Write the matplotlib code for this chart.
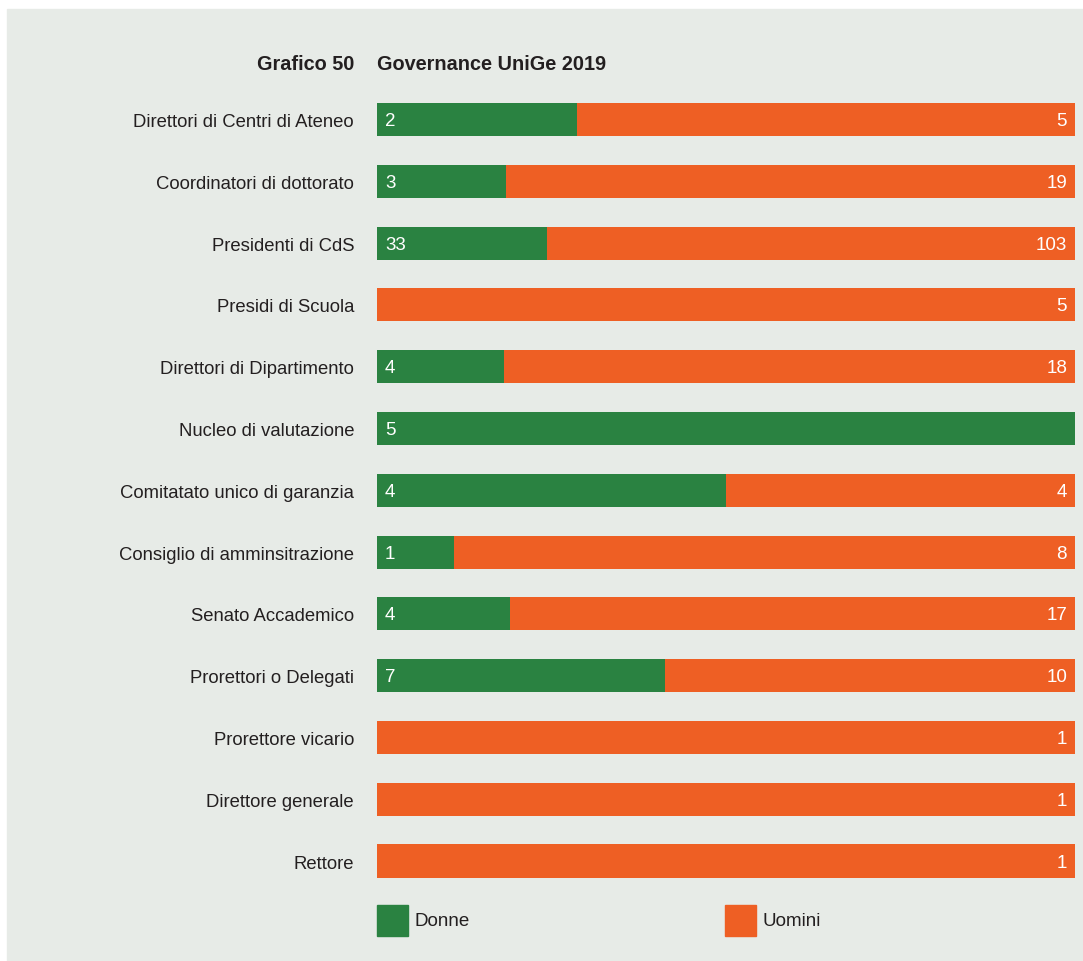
import matplotlib.pyplot as plt
import matplotlib.patches as mpatches
import numpy as np

plt.rcParams['font.family'] = ['Liberation Sans Narrow', 'Liberation Sans', 'DejaVu Sans']

# === Data ===
categorie = [
    "Direttori di Centri di Ateneo",
    "Coordinatori di dottorato",
    "Presidenti di CdS",
    "Presidi di Scuola",
    "Direttori di Dipartimento",
    "Nucleo di valutazione",
    "Comitatato unico di garanzia",
    "Consiglio di amminsitrazione",
    "Senato Accademico",
    "Prorettori o Delegati",
    "Prorettore vicario",
    "Direttore generale",
    "Rettore",
]
donne = [2, 3, 33, 0, 4, 5, 4, 1, 4, 7, 0, 0, 0]
uomini = [5, 19, 103, 5, 18, 0, 4, 8, 17, 10, 1, 1, 1]
# quota donne (%) as drawn in the picture
quota_donne = [28.6, 18.5, 24.3, 0, 18.2, 100, 50, 11.1, 19.0, 41.2, 0, 0, 0]

GREEN = "#2a8241"
ORANGE = "#ee5f24"
BG = "#e7ebe7"
TXT = "#231f20"

W, H = 1083, 962
fig = plt.figure(figsize=(W / 100, H / 100), dpi=100)
fig.patch.set_facecolor("white")
fig.patches.append(mpatches.Rectangle((7 / W, 0), 1 - 7 / W, 1 - 10 / H,
                                      transform=fig.transFigure, color=BG, zorder=-10))

# axes area in pixels
x0, x1 = 377, 1075
y_top, y_bot = 89.6, 892.9
ax = fig.add_axes([x0 / W, 1 - y_bot / H, (x1 - x0) / W, (y_bot - y_top) / H])
ax.set_facecolor("none")

y = np.arange(len(categorie))
q_d = np.array(quota_donne)
q_u = 100 - q_d
ax.barh(y, q_d, height=0.535, color=GREEN, linewidth=0)
ax.barh(y, q_u, left=q_d, height=0.535, color=ORANGE, linewidth=0)

ax.set_xlim(0, 100)
ax.set_ylim(len(categorie) - 0.5, -0.5)
for s in ax.spines.values():
    s.set_visible(False)
ax.set_xticks([])
ax.set_yticks(y)
ax.set_yticklabels(categorie, fontsize=13.3, color=TXT)
ax.tick_params(axis="y", length=0, pad=16.5)

for i in range(len(categorie)):
    if donne[i] > 0:
        ax.annotate(str(donne[i]), (0, i), xytext=(8, -1), textcoords="offset pixels",
                    ha="left", va="center", color="white", fontsize=13.5)
    if uomini[i] > 0:
        ax.annotate(str(uomini[i]), (100, i), xytext=(-8, -1), textcoords="offset pixels",
                    ha="right", va="center", color="white", fontsize=13.5)

# title
fig.text(354 / W, 1 - 65 / H, "Grafico 50", ha="right", va="center",
         fontsize=14.3, fontweight="bold", color=TXT)
fig.text(377 / W, 1 - 65 / H, "Governance UniGe 2019", ha="left", va="center",
         fontsize=14.3, fontweight="bold", color=TXT)

# legend
for lx, col, lab in [(377, GREEN, "Donne"), (725, ORANGE, "Uomini")]:
    fig.patches.append(mpatches.Rectangle((lx / W, 1 - 937 / H), 31 / W, 31 / H,
                                          transform=fig.transFigure, color=col))
    fig.text((lx + 38) / W, 1 - 922 / H, lab, ha="left", va="center",
             fontsize=13.5, color=TXT)

fig.savefig("out.png", dpi=100, facecolor=fig.get_facecolor())
